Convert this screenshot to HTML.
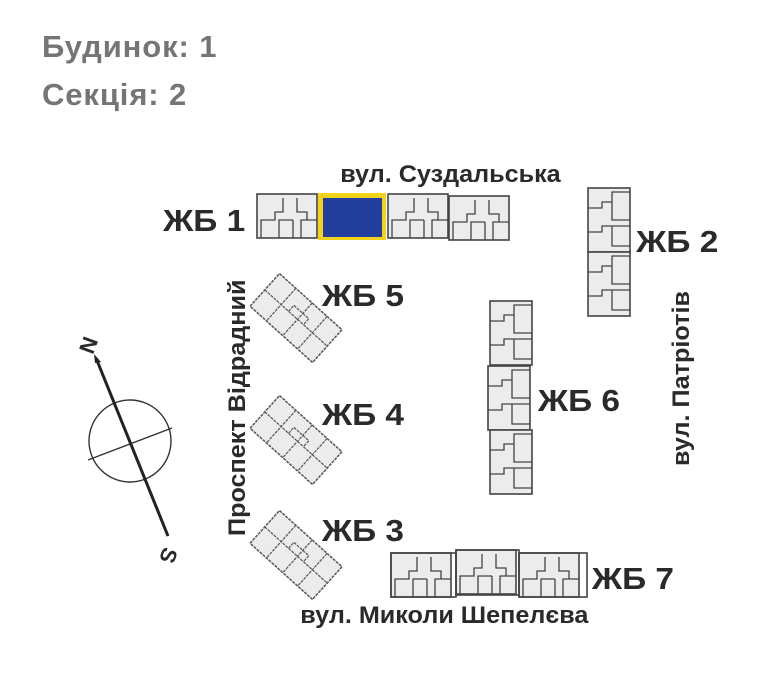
<!DOCTYPE html>
<html><head><meta charset="utf-8"><style>
html,body{margin:0;padding:0;background:#fff;}
body{width:775px;height:700px;overflow:hidden;position:relative;font-family:"Liberation Sans",sans-serif;}
.h{position:absolute;left:42px;color:#757575;font-weight:bold;font-size:31px;letter-spacing:0.9px;}
svg text{font-family:"Liberation Sans",sans-serif;font-weight:bold;fill:#2a2a2a;}
</style></head><body>
<div class="h" style="top:29px">Будинок: 1</div>
<div class="h" style="top:77px">Секція: 2</div>
<svg width="775" height="700" style="position:absolute;left:0;top:0">
<defs>
<g id="hs">
<rect x="0" y="0" width="60" height="44" fill="#ececec" stroke="#444" stroke-width="1.6"/>
<path d="M4 44V26h14v-8h8V4M22 44V26h14M36 26v18M40 4v14h10v8h-6v18M50 26h10" fill="none" stroke="#444" stroke-width="1.3"/>
</g>
<g id="vs">
<rect x="0" y="0" width="42" height="64" fill="#ececec" stroke="#444" stroke-width="1.6"/>
<path d="M0 20h14v-6h10V4h18M24 14v18h18M0 44h14v-6h10v20h18M24 38h18" fill="none" stroke="#444" stroke-width="1.3"/>
</g>
<g id="rs">
<rect x="-42" y="-22" width="84" height="44" fill="#ececec" stroke="#555" stroke-width="1.5" stroke-dasharray="3 1"/>
<path d="M-42 0h84M-20 -22v44M2 -22v44M22 -22v44M-10 0v-8h20v8" fill="none" stroke="#555" stroke-width="1.2" stroke-dasharray="3 1"/>
</g>
</defs>
<use href="#hs" x="257" y="194"/>
<use href="#hs" x="388" y="194"/>
<use href="#hs" x="449" y="196"/>
<rect x="318" y="193" width="68" height="47" fill="#f2d319"/>
<rect x="323" y="198" width="59" height="39" fill="#233f9e"/>
<use href="#vs" x="588" y="188"/>
<use href="#vs" x="588" y="252"/>
<use href="#vs" x="490" y="301"/>
<use href="#vs" x="488" y="366"/>
<use href="#vs" x="490" y="430"/>
<use href="#hs" x="391" y="553"/>
<use href="#hs" x="456" y="550"/>
<use href="#hs" x="519" y="553"/>
<rect x="391" y="553" width="65" height="44" fill="none" stroke="#444" stroke-width="1.6"/>
<rect x="456" y="550" width="63" height="45" fill="none" stroke="#444" stroke-width="1.6"/>
<rect x="519" y="553" width="68" height="44" fill="none" stroke="#444" stroke-width="1.6"/>
<use href="#rs" transform="translate(296,318) rotate(42)"/>
<use href="#rs" transform="translate(296,440) rotate(42)"/>
<use href="#rs" transform="translate(296,555) rotate(42)"/>
<circle cx="130" cy="441" r="41" fill="none" stroke="#333" stroke-width="1.4"/>
<line x1="88" y1="460" x2="172" y2="428" stroke="#333" stroke-width="1.4"/>
<line x1="96" y1="358" x2="168" y2="536" stroke="#222" stroke-width="3"/>
<path d="M94 354l7 8-6 1z" fill="#222"/>
<text x="80" y="352" font-size="22" transform="rotate(110 88 345)">N</text>
<text x="161" y="562" font-size="22" transform="rotate(110 168 555)">S</text>
<g font-size="31" transform="scale(1.08,1)">
<text x="151" y="231">ЖБ 1</text>
<text x="589" y="252">ЖБ 2</text>
<text x="298" y="306">ЖБ 5</text>
<text x="298" y="425">ЖБ 4</text>
<text x="298" y="541">ЖБ 3</text>
<text x="498" y="411">ЖБ 6</text>
<text x="548" y="589">ЖБ 7</text>
</g>
<g font-size="24" transform="scale(1.05,1)">
<text x="324" y="182">вул. Суздальська</text>
<text x="286" y="623">вул. Миколи Шепелєва</text>
</g>
<text font-size="24" transform="translate(245,536) rotate(-90) scale(1.05,1)">Проспект Відрадний</text>
<text font-size="24" transform="translate(689,466) rotate(-90) scale(1.05,1)">вул. Патріотів</text>
</svg>
</body></html>
